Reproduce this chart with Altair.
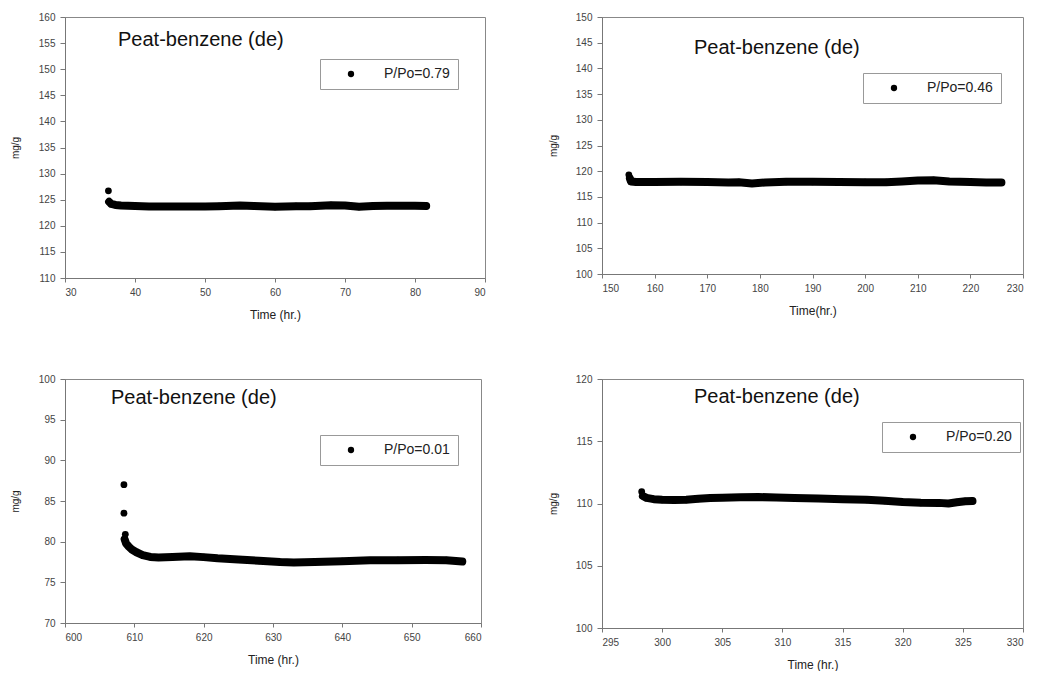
import altair as alt
import pandas as pd

FONT = "Liberation Sans"
TITLE_TEXT = "Peat-benzene (de)"

# ---- Panel 1 : P/Po = 0.79 ----
P1_LABEL = "P/Po=0.79"
P1_SPOT_T = [36.2]
P1_SPOT_W = [126.7]
P1_T = [36.3, 36.6, 37.2, 38, 40, 42, 45, 48, 50, 52, 55, 57, 60, 63, 65, 68, 70, 72, 74, 76, 78, 80, 81.6]
P1_W = [124.6, 124.2, 124.0, 123.9, 123.8, 123.7, 123.7, 123.7, 123.7, 123.75, 123.9, 123.8, 123.65,
        123.75, 123.75, 123.95, 123.9, 123.65, 123.8, 123.85, 123.85, 123.85, 123.8]

# ---- Panel 2 : P/Po = 0.46 ----
P2_LABEL = "P/Po=0.46"
P2_SPOT_T = [155.1]
P2_SPOT_W = [119.3]
P2_T = [155.3, 155.5, 156.5, 160, 165, 170, 174, 176, 178.5, 181, 185, 190, 195, 200, 204, 207, 210,
        213, 216, 220, 223, 225.9]
P2_W = [118.6, 118.0, 117.9, 117.9, 117.95, 117.9, 117.8, 117.85, 117.6, 117.8, 117.95, 117.95, 117.9,
        117.85, 117.85, 118.0, 118.2, 118.25, 118.0, 117.9, 117.8, 117.8]

# ---- Panel 3 : P/Po = 0.01 ----
P3_LABEL = "P/Po=0.01"
P3_SPOT_T = [608.5, 608.5, 608.7]
P3_SPOT_W = [87.0, 83.5, 80.9]
P3_T = [608.6, 608.8, 609.2, 609.7, 610.3, 611.2, 612.3, 613.5, 615.5, 618, 620, 622, 625, 628, 631,
        633, 636, 640, 644, 648, 652, 655, 657.3]
P3_W = [80.3, 79.8, 79.4, 79.0, 78.7, 78.35, 78.12, 78.05, 78.1, 78.2, 78.1, 77.95, 77.8, 77.65, 77.5,
        77.45, 77.5, 77.6, 77.7, 77.72, 77.75, 77.72, 77.55]

# ---- Panel 4 : P/Po = 0.20 ----
P4_LABEL = "P/Po=0.20"
P4_SPOT_T = [298.3]
P4_SPOT_W = [110.95]
P4_T = [298.4, 298.7, 299.3, 300, 301, 302, 303, 304, 305, 306.5, 308, 309.5, 311, 313, 315, 317,
        318.5, 320, 321.5, 323, 323.8, 324.5, 325.2, 325.8]
P4_W = [110.6, 110.45, 110.35, 110.3, 110.28, 110.3, 110.38, 110.44, 110.47, 110.5, 110.52, 110.48,
        110.45, 110.4, 110.34, 110.3, 110.22, 110.12, 110.06, 110.05, 110.0, 110.1, 110.18, 110.2]


def panel(spot_t, spot_w, run_t, run_w, label, xdom, xstep, ydom, ystep, w, h,
          tdx, tdy, lx, ly, xtitle, ytitle_pad):
    df = pd.DataFrame({
        "t": list(spot_t) + list(run_t),
        "w": list(spot_w) + list(run_w),
        "kind": ["spot"] * len(spot_t) + ["run"] * len(run_t),
        "s": [label] * (len(spot_t) + len(run_t)),
    })
    xticks = list(range(xdom[0], xdom[1] + 1, xstep))
    yticks = list(range(ydom[0], ydom[1] + 1, ystep))
    xenc = alt.X("t:Q", scale=alt.Scale(domain=xdom, nice=False, zero=False),
                 axis=alt.Axis(values=xticks, format="d", title=xtitle, grid=False,
                               tickSize=4, labelPadding=5, titlePadding=12,
                               labelFontSize=10, titleFontSize=12, labelColor="#444",
                               titleColor="#222", domainColor="#777", tickColor="#777",
                               labelFont=FONT, titleFont=FONT, titleFontWeight="normal"))
    yenc = alt.Y("w:Q", scale=alt.Scale(domain=ydom, nice=False, zero=False),
                 axis=alt.Axis(values=yticks, format="d", title="mg/g", grid=False,
                               tickSize=5, labelPadding=5, minExtent=25, maxExtent=25,
                               titlePadding=ytitle_pad, labelFontSize=10, titleFontSize=10,
                               labelColor="#444", titleColor="#222", domainColor="#777",
                               tickColor="#777", labelFont=FONT, titleFont=FONT,
                               titleFontWeight="normal"))
    base = alt.Chart(df)
    line = base.transform_filter(alt.datum.kind == "run").mark_line(
        color="black", strokeWidth=8, strokeCap="round", strokeJoin="round"
    ).encode(x=xenc, y=yenc)
    pts = base.mark_circle(size=46, opacity=1).encode(
        x=xenc, y=yenc,
        color=alt.Color("s:N", scale=alt.Scale(range=["black"]),
                        legend=alt.Legend(title=None, orient="none", legendX=lx, legendY=ly,
                                          strokeColor="#999", fillColor="white", padding=8,
                                          symbolType="circle", symbolSize=40,
                                          symbolStrokeWidth=0, symbolOffset=16,
                                          labelOffset=26, labelFontSize=14,
                                          labelColor="#222", labelFont=FONT)),
    )
    return alt.layer(line, pts).properties(
        width=w, height=h,
        title=alt.TitleParams(text=TITLE_TEXT, anchor="start", frame="group", dx=tdx, dy=tdy,
                              offset=0, fontSize=20, fontWeight="normal", color="#111",
                              font=FONT, baseline="alphabetic"),
    )


p1 = panel(P1_SPOT_T, P1_SPOT_W, P1_T, P1_W, P1_LABEL, [30, 90], 10, [110, 160], 5, 420, 261,
           53, 54, 255, 42, "Time (hr.)", 20)
p2 = panel(P2_SPOT_T, P2_SPOT_W, P2_T, P2_W, P2_LABEL, [150, 230], 10, [100, 150], 5, 421, 257,
           92, 62, 261, 56, "Time(hr.)", 19)
p3 = panel(P3_SPOT_T, P3_SPOT_W, P3_T, P3_W, P3_LABEL, [600, 660], 10, [70, 100], 5, 416, 244,
           46, 50, 255, 56, "Time (hr.)", 20)
p4 = panel(P4_SPOT_T, P4_SPOT_W, P4_T, P4_W, P4_LABEL, [295, 330], 5, [100, 120], 5, 421, 249,
           92, 49, 280, 43, "Time (hr.)", 19)

chart = alt.concat(p1, p2, p3, p4, columns=2, spacing={"row": 52, "column": 61}).resolve_scale(
    color="independent"
).resolve_legend(color="independent").properties(
    padding={"left": 9, "top": 11, "right": 0, "bottom": 0},
    background="white",
).configure_view(stroke="#888", strokeWidth=1)

chart.save("out.html", embed_options={"renderer": "svg", "actions": False})
